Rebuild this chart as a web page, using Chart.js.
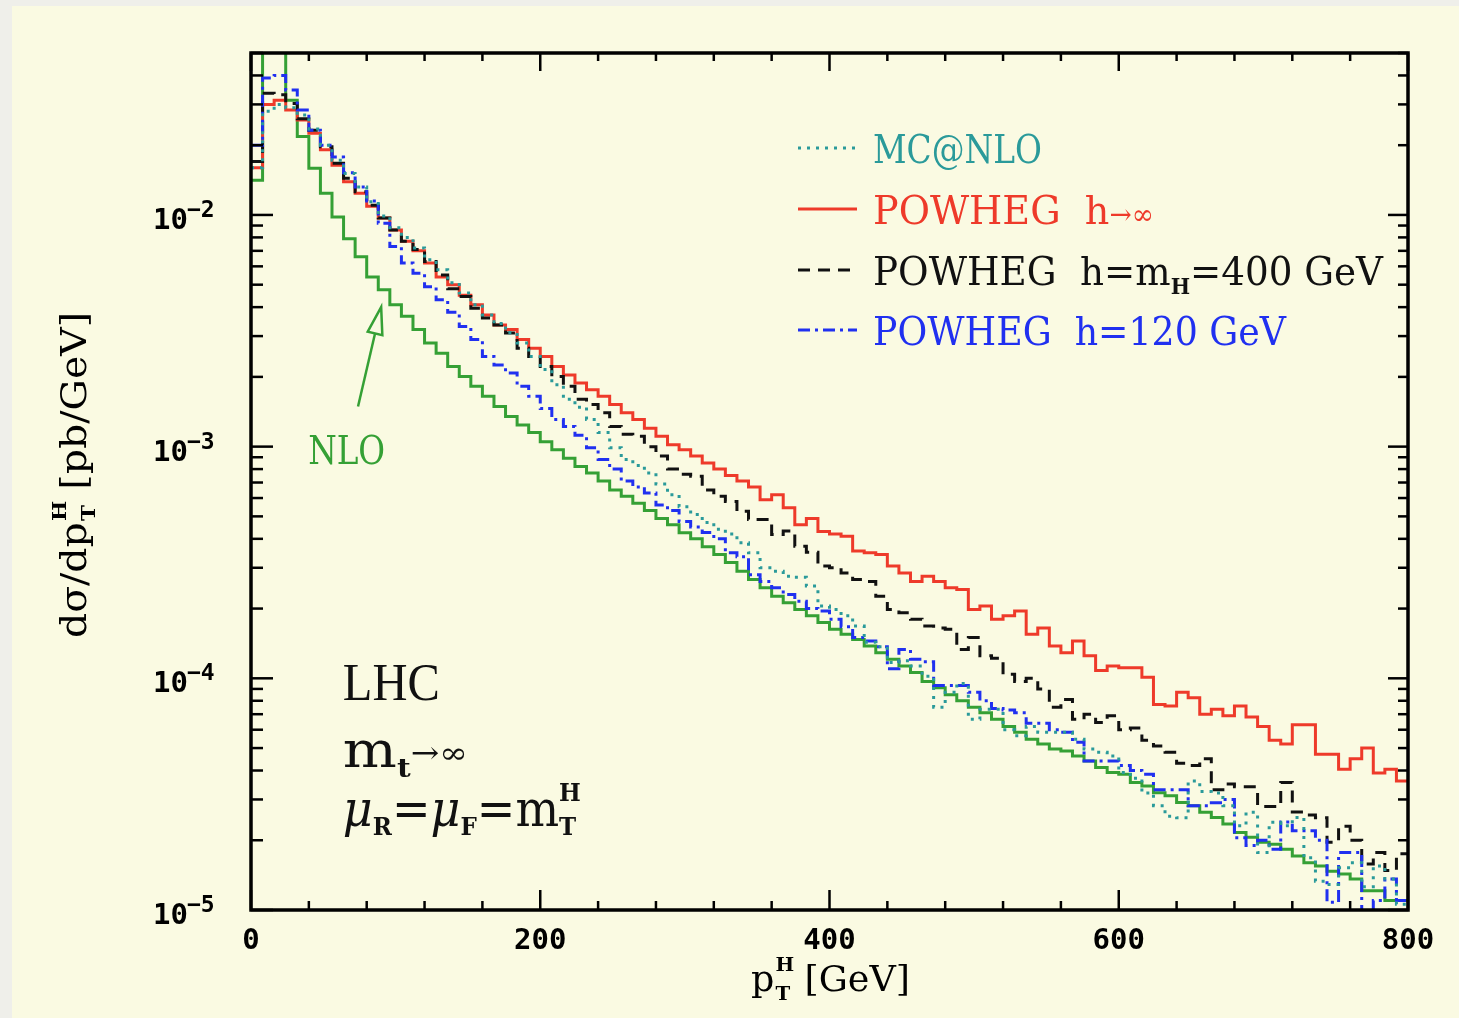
<!DOCTYPE html>
<html><head><meta charset="utf-8">
<script src="https://cdn.jsdelivr.net/npm/chart.js@4.4.1/dist/chart.umd.min.js"></script>
<style>html,body{margin:0;padding:0;background:#FAFAE2;}canvas{display:block;}</style>
</head><body>
<canvas id="c" width="1459" height="1018"></canvas>
<script>
// ---------------- data (d sigma / d pT, pb/GeV), 8 GeV bins from 0 to 800 GeV ----------------
const BIN_WIDTH = 8;
const X_MAX = 800;

const mcnlo = [
0.016,0.028,0.030,0.029,0.027,0.0235,0.020,0.0172,0.0151,0.0132,
0.0114,0.0099,0.0088,0.0080,0.0072,0.0064,0.0058,0.0051,0.0046,0.0041,
0.0037,0.0034,0.0031,0.0028,0.00245,0.00215,0.00185,0.0016,0.00148,0.00131,
0.00115,0.00099,0.00088,0.00083,0.00077,0.00069,0.00062,0.00055,0.00051,0.00047,
0.00044,0.00042,0.000385,0.000348,0.0003,0.00029,0.000276,0.000273,0.00025,0.000205,
0.000198,0.000186,0.000168,0.000143,0.000137,0.000117,0.000119,0.000113,0.000102,7.5e-5,
8.7e-5,9.5e-5,6.65e-5,7.35e-5,7.35e-5,6.0e-5,5.65e-5,6.2e-5,5.85e-5,5.85e-5,
5.85e-5,5.46e-5,4.95e-5,4.8e-5,4.62e-5,3.92e-5,3.7e-5,3.2e-5,2.82e-5,2.54e-5,
2.5e-5,3.6e-5,3.25e-5,3.2e-5,2.82e-5,2.31e-5,2.64e-5,1.77e-5,2.39e-5,2.31e-5,
2.51e-5,1.68e-5,1.33e-5,1.29e-5,1.52e-5,1.6e-5,1.26e-5,1.55e-5,1.36e-5,1.06e-5];

const powhegInf = [
0.016,0.030,0.0313,0.0284,0.0257,0.0225,0.0191,0.0164,0.0139,0.0124,
0.0109,0.0097,0.0086,0.0077,0.0070,0.0062,0.0054,0.0050,0.0045,0.0041,
0.0037,0.00335,0.0032,0.0029,0.00266,0.00245,0.00222,0.00204,0.00188,0.00176,
0.00165,0.00152,0.0014,0.00131,0.0012,0.00111,0.00102,0.00097,0.00091,0.00085,
0.0008,0.00075,0.00071,0.00067,0.00059,0.00062,0.000545,0.00046,0.00049,0.00043,
0.00042,0.00041,0.000354,0.000348,0.000342,0.000305,0.000285,0.000262,0.000276,0.000262,
0.000246,0.000242,0.000198,0.000205,0.00018,0.000186,0.000195,0.000155,0.000165,0.000138,
0.000129,0.000145,0.000125,0.000108,0.000113,0.000111,0.000111,0.000101,7.7e-5,7.6e-5,
8.7e-5,8.25e-5,7.0e-5,7.35e-5,6.9e-5,7.6e-5,6.8e-5,6.2e-5,5.4e-5,5.2e-5,
6.3e-5,6.3e-5,4.7e-5,4.7e-5,4.05e-5,4.5e-5,5.0e-5,3.9e-5,4.05e-5,3.6e-5];

const powheg400 = [
0.017,0.0335,0.033,0.0303,0.026,0.0232,0.0197,0.0167,0.0144,0.0126,
0.0110,0.0097,0.0086,0.0077,0.0071,0.0063,0.0055,0.0048,0.00445,0.00396,
0.00359,0.00335,0.00309,0.00266,0.00245,0.00222,0.00201,0.00182,0.0016,0.00152,
0.0014,0.00122,0.00113,0.00111,0.0010,0.00091,0.0008,0.00076,0.000745,0.00065,
0.00061,0.00058,0.000526,0.000485,0.000485,0.000418,0.000432,0.000372,0.00035,0.000305,
0.0003,0.000285,0.000267,0.000262,0.000226,0.000198,0.000192,0.00018,0.000168,0.000165,
0.000163,0.000133,0.00015,0.000125,0.000122,0.000104,9.7e-5,0.0001,9.0e-5,7.5e-5,
8.1e-5,6.65e-5,7.0e-5,6.45e-5,6.9e-5,6.0e-5,6.1e-5,5.4e-5,5.1e-5,4.8e-5,
4.3e-5,4.2e-5,4.5e-5,3.3e-5,3.5e-5,3.4e-5,3.4e-5,2.8e-5,2.8e-5,3.55e-5,
2.65e-5,2.57e-5,2.5e-5,1.96e-5,2.3e-5,2.0e-5,1.58e-5,1.77e-5,1.48e-5,1.75e-5];

const powheg120 = [
0.02,0.039,0.040,0.0346,0.0284,0.0232,0.020,0.0178,0.0152,0.0132,
0.0115,0.0092,0.0073,0.0062,0.0056,0.0049,0.0043,0.0038,0.0033,0.0029,
0.00245,0.00225,0.00208,0.00182,0.00165,0.00146,0.00131,0.00122,0.00112,0.00099,
0.00088,0.0008,0.00071,0.00067,0.00063,0.00056,0.00053,0.000475,0.00045,0.000426,
0.0004,0.000348,0.000335,0.00028,0.000262,0.000246,0.00023,0.000215,0.0002,0.000195,
0.00018,0.000167,0.00015,0.000145,0.000137,0.00011,0.000133,0.000121,0.000118,9.3e-5,
9.3e-5,9.3e-5,8.7e-5,8.0e-5,7.4e-5,7.3e-5,7.1e-5,6.4e-5,6.4e-5,6.0e-5,
5.85e-5,5.3e-5,4.4e-5,4.4e-5,4.4e-5,4.2e-5,4.0e-5,3.85e-5,3.3e-5,3.3e-5,
3.3e-5,2.82e-5,2.82e-5,2.9e-5,3.0e-5,2.05e-5,1.9e-5,2.0e-5,1.83e-5,2.4e-5,
2.2e-5,2.2e-5,2.0e-5,1.08e-5,1.77e-5,1.77e-5,9.5e-6,1.1e-5,1.36e-5,1.1e-5];

const nlo = [
0.0141,0.2,0.08,0.0313,0.0218,0.0159,0.0124,0.0098,0.0079,0.0066,
0.0054,0.00475,0.0041,0.00365,0.0032,0.0028,0.00253,0.00222,0.00201,0.00182,
0.00165,0.00149,0.00135,0.00124,0.00115,0.00105,0.00097,0.00089,0.00082,0.00077,
0.00071,0.00065,0.00061,0.00057,0.00053,0.00049,0.00046,0.000425,0.0004,0.00037,
0.000342,0.000316,0.00029,0.000267,0.000246,0.000226,0.000212,0.000198,0.000186,0.000174,
0.000163,0.000155,0.000147,0.000138,0.000129,0.000121,0.000113,0.000106,9.7e-5,9.1e-5,
8.5e-5,8.0e-5,7.5e-5,7.1e-5,6.65e-5,6.2e-5,5.85e-5,5.46e-5,5.2e-5,4.95e-5,
4.86e-5,4.62e-5,4.4e-5,4.12e-5,3.92e-5,3.85e-5,3.55e-5,3.43e-5,3.21e-5,3.11e-5,
2.91e-5,2.82e-5,2.64e-5,2.51e-5,2.35e-5,2.16e-5,2.06e-5,1.96e-5,1.92e-5,1.83e-5,
1.71e-5,1.6e-5,1.55e-5,1.47e-5,1.43e-5,1.36e-5,1.21e-5,1.21e-5,1.1e-5,1.1e-5];

const xTickLabels = ['0','200','400','600','800'];
const xMajor = [0,200,400,600,800];
const xMinorStep = 40;
const yDecades = [-5,-4,-3,-2];
const yLabelExp = ['\u22125','\u22124','\u22123','\u22122'];

// ---------------- style ----------------
const BG = '#FAFAE2';
const C_TEAL = '#2A9A9A', C_RED = '#EE3A2A', C_BLACK = '#111111', C_BLUE = '#2030F0', C_GREEN = '#35A035';
const DASH_CYAN = [3,6], DASH_BLACK = [12,8], DASH_BLUE = [12,5,3,5];
const SERIF = '"DejaVu Serif"';

function stepPoints(vals){
  const pts = vals.map((v,i)=>({x:i*BIN_WIDTH, y:v}));
  pts.push({x:X_MAX, y:vals[vals.length-1]});
  return pts;
}
function ds(label, vals, color, dash){
  return {label, data: stepPoints(vals), borderColor: color, borderWidth: 3, borderDash: dash,
          stepped:'before', pointRadius:0, fill:false, tension:0};
}

// rich text helpers
function partW(c,p){
  if (p.stack){ c.font=p.f; return Math.max(c.measureText(p.sup).width, c.measureText(p.sub).width); }
  c.font=p.f; return c.measureText(p.t).width;
}
function drawRich(c, x, y, parts, color, width){
  let tot=0; parts.forEach(p=>tot+=partW(c,p)+(p.gap||0));
  const sx = width ? width/tot : 1;
  c.save(); c.translate(x,y); c.scale(sx,1); c.fillStyle=color; c.textBaseline='alphabetic'; c.textAlign='left';
  let cx=0;
  parts.forEach(p=>{
    const w=partW(c,p);
    c.font=p.f;
    if (p.stack){ c.fillText(p.sup,cx,p.supDy); c.fillText(p.sub,cx,p.subDy); }
    else c.fillText(p.t,cx,p.dy||0);
    cx+=w+(p.gap||0);
  });
  c.restore();
}

const deco = {
  id:'deco',
  beforeDraw(chart){
    const c=chart.ctx, W=chart.width, H=chart.height;
    c.save();
    c.fillStyle='#EFEFEA'; c.fillRect(0,0,W,H);
    c.fillStyle=BG; c.fillRect(12,6,W-12,H-6);
    c.restore();
  },
  afterDatasetsDraw(chart){
    const c=chart.ctx, a=chart.chartArea, xs=chart.scales.x, ys=chart.scales.y;
    c.save();
    c.strokeStyle='#000'; c.lineWidth=2.5; c.setLineDash([]);
    const L=(x1,y1,x2,y2)=>{c.beginPath();c.moveTo(x1,y1);c.lineTo(x2,y2);c.stroke();};
    // x ticks
    for (let v=0; v<=X_MAX; v+=xMinorStep){
      const px=xs.getPixelForValue(v), major=xMajor.includes(v);
      L(px,a.bottom,px,a.bottom-(major?20:9));
      L(px,a.top,px,a.top+(major?18:8));
    }
    // y ticks
    yDecades.forEach(d=>{
      for (let m=1;m<=9;m++){
        const v=m*Math.pow(10,d); if (v>ys.max) break;
        const py=ys.getPixelForValue(v), major=(m===1);
        L(a.left,py,a.left+(major?22:12),py);
        L(a.right,py,a.right-(major?20:10),py);
      }
    });
    // frame
    c.lineWidth=3.5; c.strokeRect(a.left,a.top,a.right-a.left,a.bottom-a.top);
    // x tick labels
    c.fillStyle='#000'; c.font='bold 29px "DejaVu Sans Mono"'; c.textAlign='center'; c.textBaseline='alphabetic';
    xMajor.forEach((v,i)=>c.fillText(xTickLabels[i], xs.getPixelForValue(v), 949));
    // y tick labels
    yDecades.forEach((d,i)=>{
      const py=ys.getPixelForValue(Math.pow(10,d));
      c.textAlign='right'; c.font='bold 29px "DejaVu Sans Mono"'; c.fillText('10',188,py+14);
      c.textAlign='left'; c.font='bold 23px "DejaVu Sans Mono"'; c.fillText(yLabelExp[i],187,py+2);
    });
    // axis titles
    drawRich(c, 751, 991, [
      {t:'p', f:'35px '+SERIF, gap:1},
      {stack:true, sup:'H', sub:'T', f:'bold 19px '+SERIF, supDy:-20, subDy:9, gap:10},
      {t:'[GeV]', f:'35px '+SERIF}
    ], '#000', 159);
    c.save(); c.translate(73,475); c.rotate(-Math.PI/2);
    drawRich(c, -163, 13, [
      {t:'d\u03c3/dp', f:'35px '+SERIF, gap:1},
      {stack:true, sup:'H', sub:'T', f:'bold 19px '+SERIF, supDy:-20, subDy:9, gap:10},
      {t:'[pb/GeV]', f:'35px '+SERIF}
    ], '#000', 326);
    c.restore();
    // legend
    const lx1=798, lx2=857, tx=873;
    const rows=[
      {y:148, b:163, color:C_TEAL, dash:DASH_CYAN, w:169, parts:[{t:'MC@NLO', f:'40px '+SERIF}]},
      {y:209, b:224, color:C_RED, dash:[], w:281, parts:[{t:'POWHEG  h', f:'40px '+SERIF},{t:'\u2192\u221e', f:'28px '+SERIF}]},
      {y:270, b:285, color:C_BLACK, dash:DASH_BLACK, w:510, parts:[{t:'POWHEG  h=m', f:'40px '+SERIF},{t:'H', f:'bold 22px '+SERIF, dy:9},{t:'=400 GeV', f:'40px '+SERIF}]},
      {y:330, b:345, color:C_BLUE, dash:DASH_BLUE, w:413, parts:[{t:'POWHEG  h=120 GeV', f:'40px '+SERIF}]}
    ];
    rows.forEach(r=>{
      c.strokeStyle=r.color; c.lineWidth=3; c.setLineDash(r.dash);
      L(lx1,r.y,lx2,r.y); c.setLineDash([]);
      drawRich(c, tx, r.b, r.parts, r.color, r.w);
    });
    // NLO annotation (in data coordinates)
    const tip={x:xs.getPixelForValue(90), y:ys.getPixelForValue(4.0e-3)};
    const tail={x:xs.getPixelForValue(74), y:ys.getPixelForValue(1.49e-3)};
    const ang=Math.atan2(tip.y-tail.y, tip.x-tail.x);
    const hl=27, hw=7.5;
    const bx=tip.x-hl*Math.cos(ang), by=tip.y-hl*Math.sin(ang);
    const nx=-Math.sin(ang), ny=Math.cos(ang);
    c.strokeStyle=C_GREEN; c.lineWidth=2.5;
    L(tail.x,tail.y,bx,by);
    c.beginPath(); c.moveTo(tip.x,tip.y); c.lineTo(bx+nx*hw,by+ny*hw); c.lineTo(bx-nx*hw,by-ny*hw); c.closePath(); c.stroke();
    drawRich(c, xs.getPixelForValue(39.5), ys.getPixelForValue(8.4e-4), [{t:'NLO', f:'40px '+SERIF}], C_GREEN, 77);
    // LHC block
    const bxp=xs.getPixelForValue(63.5);
    drawRich(c, bxp, 700, [{t:'LHC', f:'53px "Liberation Serif"'}], '#111', 97);
    drawRich(c, bxp, 767, [
      {t:'m', f:'50px '+SERIF},
      {t:'t', f:'bold 26px '+SERIF, dy:10},
      {t:'\u2192\u221e', f:'30px '+SERIF, dy:-4}
    ], '#111', 125);
    drawRich(c, bxp, 826, [
      {t:'\u03bc', f:'italic 50px '+SERIF},
      {t:'R', f:'bold 25px '+SERIF, dy:9},
      {t:'=', f:'50px '+SERIF},
      {t:'\u03bc', f:'italic 50px '+SERIF},
      {t:'F', f:'bold 25px '+SERIF, dy:9},
      {t:'=m', f:'50px '+SERIF},
      {stack:true, sup:'H', sub:'T', f:'bold 25px '+SERIF, supDy:-25, subDy:9}
    ], '#111', 238);
    c.restore();
  }
};

new Chart(document.getElementById('c'), {
  type:'line',
  data:{datasets:[
    ds('MC@NLO', mcnlo, C_TEAL, DASH_CYAN),
    ds('POWHEG h=120 GeV', powheg120, C_BLUE, DASH_BLUE),
    ds('POWHEG h=mH=400 GeV', powheg400, C_BLACK, DASH_BLACK),
    ds('POWHEG h\u2192\u221e', powhegInf, C_RED, []),
    ds('NLO', nlo, C_GREEN, [])
  ]},
  options:{
    responsive:false, animation:false, devicePixelRatio:1,
    layout:{padding:{left:251, top:53, right:51, bottom:108}},
    plugins:{legend:{display:false}, tooltip:{enabled:false}},
    scales:{
      x:{type:'linear', min:0, max:X_MAX, display:false},
      y:{type:'logarithmic', min:1e-5, max:0.05, display:false}
    },
    elements:{point:{radius:0}}
  },
  plugins:[deco]
});
</script>
</body></html>
